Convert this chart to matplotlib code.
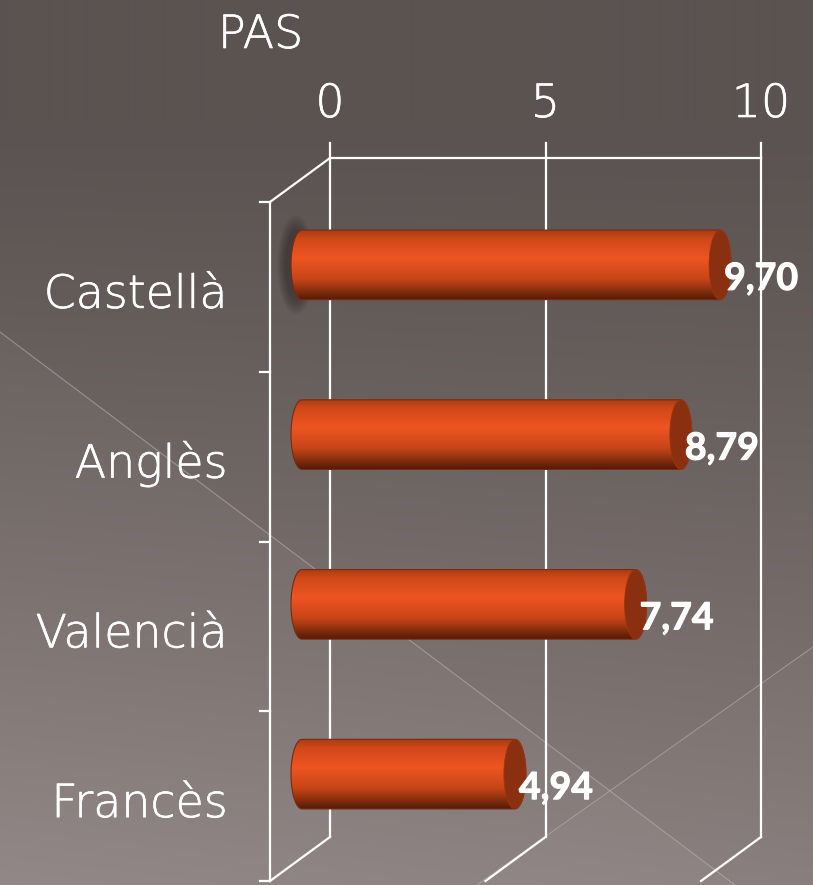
import numpy as np
import matplotlib
matplotlib.use("Agg")
import matplotlib.pyplot as plt
import matplotlib.patheffects as pe
from matplotlib.patches import Ellipse, PathPatch
from matplotlib.path import Path
from matplotlib.transforms import ScaledTranslation
from matplotlib.colors import LinearSegmentedColormap

# PAS scores per language
categories = ["Castellà", "Anglès", "Valencià", "Francès"]
values = [9.70, 8.79, 7.74, 4.94]
value_labels = ["9,70", "8,79", "7,74", "4,94"]
xticks = [0, 5, 10]
title = "PAS"

W, H, DPI = 813, 885, 100
fig = plt.figure(figsize=(W / DPI, H / DPI), dpi=DPI)

light = dict(family="DejaVu Sans", fontweight="light", color="white", fontsize=33,
             path_effects=[pe.withStroke(linewidth=0.45, foreground="white")])

# background: dark taupe gradient with two faint diagonal strokes
bg = fig.add_axes([0, 0, 1, 1])
bg.set_xlim(0, W)
bg.set_ylim(H, 0)
bg.axis("off")
yy, xx = np.mgrid[0:H, 0:W]
top = np.array([0x5b, 0x53, 0x51]) / 255
bot = np.array([0x86, 0x7c, 0x7b]) / 255
t = np.clip((yy - 120) / (H - 120), 0, 1)[..., None]
img = top + (bot - top) * t ** 1.2
# left side a touch lighter toward the bottom
img = img + (0.03 * (1 - xx / W) * t[..., 0])[..., None]
below1 = yy > 332 + xx * (885 - 332) / 735
below2 = yy > 647 + (813 - xx) * (885 - 647) / (813 - 477)
img = img + (0.018 * below1 + 0.012 * below2)[..., None]
bg.imshow(np.clip(img, 0, 1), extent=(0, W, H, 0), aspect="auto", zorder=0)
bg.plot([0, 735], [332, 885], color="#b8b0ae", lw=0.8, alpha=0.6)
bg.plot([813, 477], [647, 885], color="#b8b0ae", lw=0.8, alpha=0.6)

# chart plane sits at the depth of the cylinders
ppu = 43.1          # pixels per unit
xmin = -0.6
x0px, ytop, ybot = 302, 180, 859
left_px = x0px + xmin * ppu
ax = fig.add_axes([left_px / W, 1 - ybot / H, (10 - xmin) * ppu / W, (ybot - ytop) / H])
ylo, yhi = -0.5, len(categories) - 0.5
ax.set_xlim(xmin, 10)
ax.set_ylim(yhi, ylo)
ax.axis("off")

def shift(dx, dy):
    return ax.transData + ScaledTranslation(dx / DPI, -dy / DPI, fig.dpi_scale_trans)

back = shift(28, -22)
front = shift(-32, 22)
lc = "white"
lw = 1.6

# cylinder shading from top edge to bottom edge
body_cmap = LinearSegmentedColormap.from_list(
    "cyl", [(0.0, "#a83c16"), (0.12, "#cf4818"), (0.4, "#ee5522"),
            (0.7, "#c84518"), (0.9, "#7c2a0c"), (1.0, "#561a06")])
grad = np.linspace(0, 1, 200)[:, None]

h = 0.205
rx = 11 / ppu

# soft dark smudge at the base of the first cylinder
for k in range(8):
    ax.add_patch(Ellipse((-0.14, 0), 2 * rx + 0.05 * k, 2 * h + 0.025 * k, color="#2a2422",
                         alpha=0.08, lw=0, zorder=2))

for i, (v, lab) in enumerate(zip(values, value_labels)):
    n = 40
    th_l = np.linspace(np.pi / 2, 3 * np.pi / 2, n)
    th_r = np.linspace(-np.pi / 2, np.pi / 2, n)
    left = np.column_stack([rx * np.cos(th_l), i - h * np.sin(th_l)])
    right = np.column_stack([v + rx * np.cos(th_r), i - h * np.sin(th_r)])
    outline = Path(np.vstack([left, right, left[:1]]), closed=True)
    patch = PathPatch(outline, facecolor="none", edgecolor="#7a2a0e", lw=0.8, zorder=4)
    ax.add_patch(patch)
    im = ax.imshow(grad, cmap=body_cmap, extent=(-rx, v + rx, i + h, i - h),
                   aspect="auto", zorder=3, interpolation="bilinear")
    im.set_clip_path(patch)
    ax.add_patch(Ellipse((v, i), 2 * rx, 2 * h, facecolor="#8a2f0f", edgecolor="#9a3612",
                         lw=0.6, zorder=5))
    ax.text(v, i, lab, transform=shift(4, 25), ha="left", va="baseline", fontsize=27,
            fontweight="bold", color="white", family="Lato", zorder=6, clip_on=False,
            path_effects=[pe.withStroke(linewidth=0.8, foreground="white")])
    ax.text(0, i, categories[i], transform=shift(-74, 43), ha="right", va="baseline",
            clip_on=False, **light)

# imshow resets the limits
ax.set_xlim(xmin, 10)
ax.set_ylim(yhi, ylo)

# back wall gridlines with the value ticks on top
for xt in xticks:
    ax.plot([xt, xt], [yhi, ylo], color=lc, lw=lw, transform=back, clip_on=False, zorder=1)
    ax.plot([xt, xt], [ylo, ylo - 0.09], color=lc, lw=lw, transform=back, clip_on=False)
    ax.text(xt, ylo, str(xt), transform=shift(28, -22 - 41), ha="center", va="baseline",
            clip_on=False, **light)
ax.plot([xticks[0], xticks[-1]], [ylo, ylo], color=lc, lw=lw, transform=back, clip_on=False)

# slanted floor edges and the top-left corner edge
floor_dy = 44 / ((ybot - ytop) / (yhi - ylo))
for xt in xticks:
    ax.plot([xt, xt - 60 / ppu], [yhi, yhi + floor_dy], color=lc, lw=lw, transform=back,
            clip_on=False, zorder=1)
ax.plot([0, -60 / ppu], [ylo, ylo + floor_dy], color=lc, lw=lw, transform=back,
        clip_on=False, zorder=1)

# front category axis with its ticks
ax.plot([0, 0], [ylo, yhi], color=lc, lw=lw, transform=front, clip_on=False)
for yb in np.arange(ylo, yhi + 0.01, 1.0):
    ax.plot([-0.24, 0], [yb, yb], color=lc, lw=lw, transform=front, clip_on=False)

fig.text(218 / W, 1 - 48 / H, title, ha="left", va="baseline", **light)

plt.savefig("out.png", dpi=DPI)
